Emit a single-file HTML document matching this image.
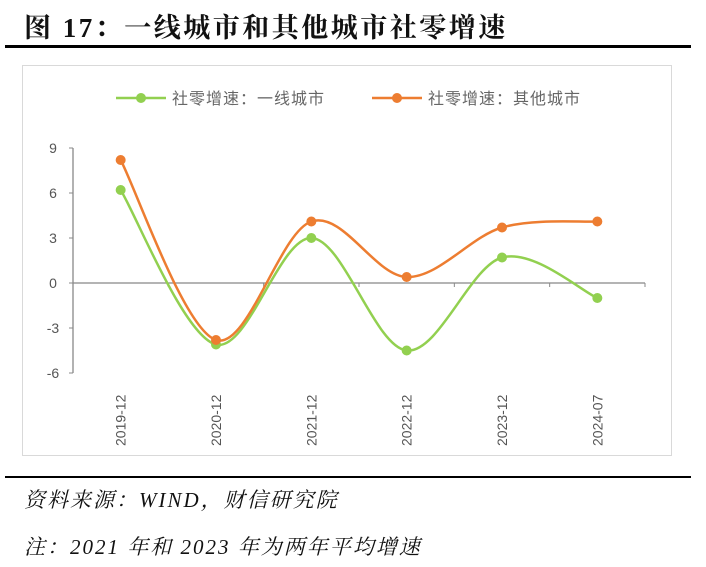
<!DOCTYPE html>
<html><head><meta charset="utf-8">
<style>
body{margin:0;width:706px;height:567px;background:#fff;overflow:hidden;font-family:"Liberation Serif","Noto Serif CJK SC",serif;}
.title{position:absolute;left:24px;top:6px;font-size:27px;font-weight:bold;color:#111;letter-spacing:2.5px;white-space:nowrap;}
.rule{position:absolute;left:5px;width:686px;background:#000;}
.src{position:absolute;left:24px;font-size:21px;font-style:italic;color:#111;letter-spacing:2px;white-space:nowrap;}
</style></head><body>
<div class="title">图 17：一线城市和其他城市社零增速</div>
<div class="rule" style="top:45px;height:3px"></div>
<svg id="c" width="706" height="567" style="position:absolute;left:0;top:0"></svg>
<div class="rule" style="top:476px;height:2px"></div>
<div class="src" style="top:484px">资料来源：WIND，财信研究院</div>
<div class="src" style="top:531px">注：2021 年和 2023 年为两年平均增速</div>
<script>
const categories=["2019-12","2020-12","2021-12","2022-12","2023-12","2024-07"];
const tier1=[6.2,-4.1,3.0,-4.5,1.7,-1.0];
const others=[8.2,-3.8,4.1,0.4,3.7,4.1];
const yTicks=[9,6,3,0,-3,-6];
const seriesNames=["社零增速：一线城市","社零增速：其他城市"];
const NS="http://www.w3.org/2000/svg";
const svg=document.getElementById('c');
function mk(t,a,p){const e=document.createElementNS(NS,t);for(const k in a)e.setAttribute(k,a[k]);(p||svg).appendChild(e);return e;}
const X0=73,X1=645,step=(X1-X0)/categories.length;
const x=i=>X0+step*(i+0.5);
const y=v=>283-v*15;
let r=mk('rect',{x:22.5,y:65.5,width:649,height:390,fill:'#fff',stroke:'#d9d9d9'});

let ya=mk('line',{x1:X0,y1:y(9),x2:X0,y2:y(-6),stroke:'#888','stroke-width':1.3});

yTicks.forEach(t=>{
 mk('line',{x1:X0-4,y1:y(t),x2:X0,y2:y(t),stroke:'#888'});
 let tx=mk('text',{x:X0-20,y:y(t)+5,'text-anchor':'middle','font-size':14,fill:'#555','font-family':'Liberation Sans,sans-serif'});
 tx.textContent=t;
 
});
let xa=mk('line',{x1:X0,y1:y(0),x2:X1,y2:y(0),stroke:'#888','stroke-width':1.3});

for(let i=0;i<=categories.length;i++)mk('line',{x1:X0+step*i,y1:y(0),x2:X0+step*i,y2:y(0)+4,stroke:'#888'});
categories.forEach((c,i)=>{
 let tx=mk('text',{transform:`translate(${x(i)+5},${y(-6)+73}) rotate(-90)`,'font-size':14,fill:'#555','font-family':'Liberation Sans,sans-serif'});
 tx.textContent=c;
 
});
function smooth(vals){
 const p=vals.map((v,i)=>[x(i),y(v)]);let d=`M${p[0][0]},${p[0][1]}`;
 for(let i=0;i<p.length-1;i++){
  const p0=p[i-1]||p[i],p1=p[i],p2=p[i+1],p3=p[i+2]||p2,t=1/6;
  d+=` C${p1[0]+(p2[0]-p0[0])*t},${p1[1]+(p2[1]-p0[1])*t} ${p2[0]-(p3[0]-p1[0])*t},${p2[1]-(p3[1]-p1[1])*t} ${p2[0]},${p2[1]}`;
 }return d;
}
[[tier1,'#92d050','series-tier1'],[others,'#ed7d31','series-others']].forEach(([vals,col,nm])=>{
 let g=mk('g',{});
 mk('path',{d:smooth(vals),fill:'none',stroke:col,'stroke-width':2.5},g);
 vals.forEach((v,i)=>{let c=mk('circle',{cx:x(i),cy:y(v),r:5,fill:col},g);
  });
});
[[116,'#92d050',0],[372,'#ed7d31',1]].forEach(([lx,col,k])=>{
 let g=mk('g',{});
 mk('line',{x1:lx,y1:98,x2:lx+50,y2:98,stroke:col,'stroke-width':2.5},g);
 mk('circle',{cx:lx+25,cy:98,r:5,fill:col},g);
 let t=mk('text',{x:lx+56,y:104,'font-size':16,'letter-spacing':1,fill:'#666','font-family':'Liberation Sans,Noto Sans CJK SC,sans-serif'},g);
 t.textContent=seriesNames[k];
});
</script>
</body></html>
